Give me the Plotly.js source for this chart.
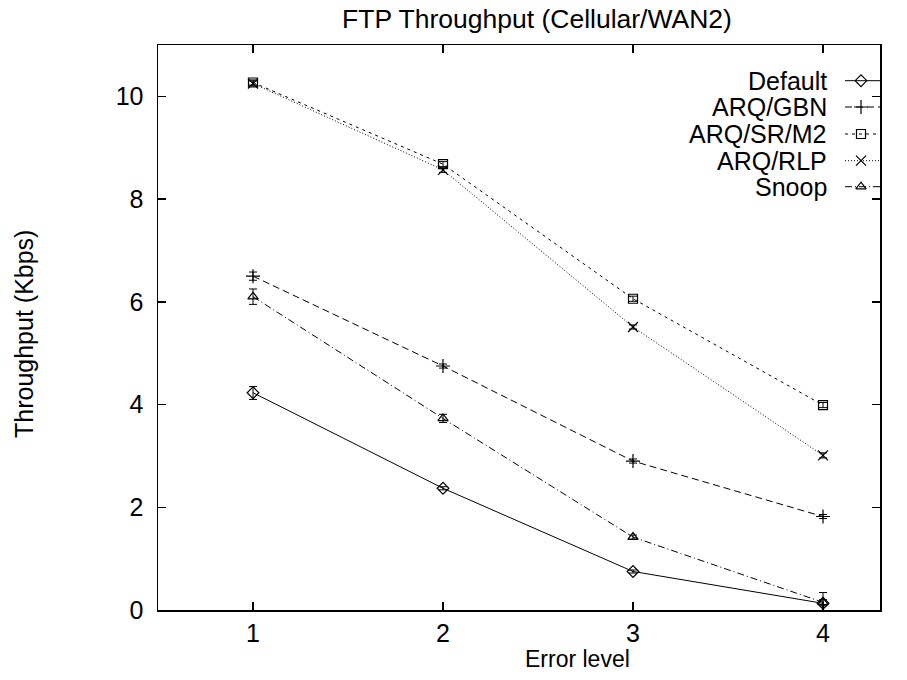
<!DOCTYPE html>
<html>
<head>
<meta charset="utf-8">
<script src="https://cdn.plot.ly/plotly-3.0.1.min.js"></script>
<style>
  html, body { margin: 0; padding: 0; background: #fff; }
  #chart { width: 907px; height: 680px; }
</style>
</head>
<body>
<div id="chart"></div>
<script>
// FTP throughput per error level, with error bars (Kbps)
const errorLevels = [1, 2, 3, 4];

const seriesNames = ['Default', 'ARQ/GBN', 'ARQ/SR/M2', 'ARQ/RLP', 'Snoop'];

const defaultVals   = [4.23, 2.37, 0.75, 0.13];
const defaultErrHi  = [0.12, 0.03, 0.03, 0.21];
const defaultErrLo  = [0.13, 0.03, 0.03, 0.05];

const gbnVals       = [6.50, 4.75, 2.90, 1.82];
const gbnErr        = [0.08, 0.04, 0.04, 0.04];

const srVals        = [10.27, 8.68, 6.06, 3.99];
const srErr         = [0.05, 0.05, 0.05, 0.05];

const rlpVals       = [10.25, 8.57, 5.51, 3.01];
const rlpErr        = [0.05, 0.05, 0.04, 0.05];

const snoopVals     = [6.10, 3.73, 1.42, 0.15];
const snoopErr      = [0.15, 0.08, 0.04, 0.05];

const FONT = 'Liberation Sans, Arial, Helvetica, sans-serif';
const FS = 25;

// line / marker style per series (gnuplot-like black styles)
const styles = [
  { dash: 'solid',              symbol: 'diamond-open',        size: 9 },
  { dash: '7px,4px',            symbol: 'cross-thin-open',     size: 10 },
  { dash: '3px,4px',            symbol: 'square-open',         size: 9 },
  { dash: '1px,2px',            symbol: 'x-thin-open',         size: 10 },
  { dash: '7px,3px,1px,3px',    symbol: 'triangle-up-open',    size: 9 }
];

const values = [defaultVals, gbnVals, srVals, rlpVals, snoopVals];
const errHi  = [defaultErrHi, gbnErr, srErr, rlpErr, snoopErr];
const errLo  = [defaultErrLo, gbnErr, srErr, rlpErr, snoopErr];

const traces = values.map((v, i) => ({
  type: 'scatter',
  mode: 'lines+markers',
  name: seriesNames[i],
  x: errorLevels,
  y: v,
  showlegend: false,
  line: { color: '#000', width: 1, dash: styles[i].dash },
  marker: { symbol: styles[i].symbol, size: styles[i].size, color: '#000',
            line: { color: '#000', width: 1.2 } },
  error_y: { type: 'data', symmetric: false, array: errHi[i], arrayminus: errLo[i],
             color: '#000', thickness: 1, width: 4 }
}));

// key: label on the left, line sample with marker on the right
const keyRowsY = [80.7, 107, 134, 160.7, 186.7];
const keyLineX = [845, 893];
const keyMarkX = 861;
const annotations = [];
seriesNames.forEach((name, i) => {
  traces.push({
    type: 'scatter', mode: 'lines', xaxis: 'x2', yaxis: 'y2', showlegend: false,
    hoverinfo: 'skip', cliponaxis: false,
    x: keyLineX, y: [keyRowsY[i], keyRowsY[i]],
    line: { color: '#000', width: 1, dash: styles[i].dash }
  });
  traces.push({
    type: 'scatter', mode: 'markers', xaxis: 'x2', yaxis: 'y2', showlegend: false,
    hoverinfo: 'skip',
    x: [keyMarkX], y: [keyRowsY[i]],
    marker: { symbol: styles[i].symbol, size: styles[i].size, color: '#000',
              line: { color: '#000', width: 1.2 } },
    cliponaxis: false
  });
  annotations.push({
    xref: 'x2', yref: 'y2', x: 829, y: keyRowsY[i], xanchor: 'right', yanchor: 'middle',
    text: name, showarrow: false, font: { family: FONT, size: FS, color: '#000' }
  });
});

// axis titles (paper coordinates, outside the plotting area)
annotations.push({
  xref: 'paper', yref: 'paper', x: (577 - 158) / 722, y: (610 - 659) / 565,
  xanchor: 'center', yanchor: 'middle',
  text: 'Error level', showarrow: false, font: { family: FONT, size: 23, color: '#000' }
});
annotations.push({
  xref: 'paper', yref: 'paper', x: (24 - 158) / 722, y: (610 - 334) / 565,
  xanchor: 'center', yanchor: 'middle',
  textangle: -90, text: 'Throughput (Kbps)', showarrow: false,
  font: { family: FONT, size: FS, color: '#000' }
});

const axisCommon = {
  showgrid: false, zeroline: false, showline: true, linecolor: '#000', linewidth: 1.5,
  mirror: 'allticks', ticks: 'inside', ticklen: 8, tickwidth: 1.5, tickcolor: '#000',
  tickfont: { family: FONT, size: FS, color: '#000' }
};

const layout = {
  width: 907, height: 680,
  margin: { l: 158, r: 27, t: 45, b: 70, pad: 0 },
  paper_bgcolor: '#fff', plot_bgcolor: '#fff',
  font: { family: FONT, size: FS, color: '#000' },
  title: {
    text: 'FTP Throughput (Cellular/WAN2)',
    font: { family: FONT, size: 26.5, color: '#000' },
    xref: 'paper', x: (537 - 158) / 722, xanchor: 'center',
    yref: 'container', y: 1 - 19 / 680, yanchor: 'middle'
  },
  xaxis: Object.assign({}, axisCommon, {
    range: [0.5, 4.3], tickvals: errorLevels, ticktext: errorLevels.map(String)
  }),
  yaxis: Object.assign({}, axisCommon, {
    range: [0, 11], tickvals: [0, 2, 4, 6, 8, 10], ticklabelstandoff: 8
  }),
  // pixel-space overlay used for the key
  xaxis2: { overlaying: 'x', range: [158, 880], visible: false, fixedrange: true },
  yaxis2: { overlaying: 'y', range: [610, 45], visible: false, fixedrange: true },
  annotations: annotations,
  showlegend: false
};

Plotly.newPlot('chart', traces, layout, { displayModeBar: false, staticPlot: true });
</script>
</body>
</html>
